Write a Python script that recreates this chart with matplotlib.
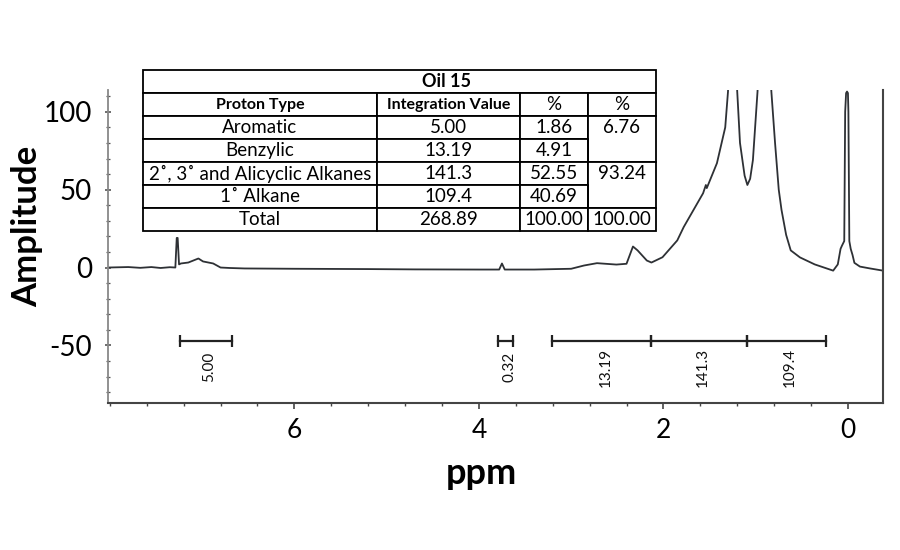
import matplotlib
matplotlib.use("Agg")
import matplotlib.pyplot as plt
from matplotlib.ticker import MultipleLocator

# ---------------- data ----------------
ppm = [8.02, 7.80, 7.67, 7.55, 7.45, 7.35, 7.29, 7.275, 7.265, 7.25, 7.23, 7.15, 7.04, 6.99, 6.88,
       6.80, 6.70, 6.54, 6.00, 5.20, 4.70, 4.00, 3.78, 3.75, 3.72, 3.40, 3.00, 2.86, 2.72, 2.51,
       2.40, 2.33, 2.28, 2.18, 2.13, 2.01, 1.85, 1.78, 1.57, 1.54, 1.53, 1.42, 1.33, 1.30, 1.26,
       1.20, 1.17, 1.12, 1.09, 1.06, 1.03, 0.98, 0.92, 0.83, 0.79, 0.75, 0.72, 0.67, 0.62, 0.52,
       0.36, 0.16, 0.11, 0.08, 0.065, 0.04, 0.03, 0.02, 0.01, 0.0, -0.005, -0.015, -0.03, -0.05,
       -0.07, -0.13, -0.24, -0.38]
amp = [0.0, 0.3, -0.2, 0.3, -0.3, 0.2, 0.0, 19.0, 19.0, 2.0, 2.6, 3.2, 5.8, 3.9, 2.6,
       0.0, -0.3, -0.6, -0.8, -1.0, -1.2, -1.3, -1.3, 2.6, -1.3, -1.3, -0.8, 1.3, 2.8, 1.9,
       2.4, 13.5, 11.0, 4.5, 3.2, 6.6, 17.4, 26.0, 47.7, 53.0, 51.0, 67.0, 90.0, 113.0, 200.0,
       113.0, 80.0, 59.0, 53.0, 57.0, 69.0, 113.0, 220.0, 113.0, 80.0, 50.0, 37.0, 21.0, 11.0, 6.5,
       2.0, -2.0, 2.0, 12.0, 14.0, 17.0, 100.0, 112.0, 113.0, 112.0, 100.0, 17.0, 12.0, 8.0,
       3.0, 0.6, -0.6, -2.0]

int_start = [7.24, 3.79, 3.21, 2.13, 1.09]
int_end = [6.68, 3.63, 2.13, 1.09, 0.24]
int_labels = ["5.00", "0.32", "13.19", "141.3", "109.4"]

table_title = "Oil 15"
col_headers = ["Proton Type", "Integration Value", "%", "%"]
proton_types = ["Aromatic", "Benzylic", "2˚, 3˚ and Alicyclic Alkanes", "1˚ Alkane", "Total"]
integration_vals = ["5.00", "13.19", "141.3", "109.4", "268.89"]
pct_vals = ["1.86", "4.91", "52.55", "40.69", "100.00"]
group_pct = ["6.76", "", "93.24", "", "100.00"]

x_ticks = [6, 4, 2, 0]
y_ticks = [-50, 0, 50, 100]

# ---------------- figure ----------------
FONT = ["Lato", "DejaVu Sans"]
plt.rcParams["font.family"] = FONT
W, H = 900, 550
fig = plt.figure(figsize=(9, 5.5), dpi=100)
ax = fig.add_axes([108 / W, 1 - 403 / H, (883 - 108) / W, (403 - 90) / H])

line_col = "#2e3135"
ax.plot(ppm, amp, color=line_col, lw=1.3, solid_joinstyle="round")

ax.set_xlim(8.02, -0.38)
ax.set_ylim(-87, 114)

# integration bars
bar_y = -47
for s, e, lab in zip(int_start, int_end, int_labels):
    ax.plot([s, e], [bar_y, bar_y], color="#222222", lw=1.6, marker="|", markersize=8,
            markeredgewidth=1.6)
    ax.text((s + e) / 2 - 0.04, -64, lab, rotation=90, ha="center", va="center",
            fontsize=11, color="#111111")

# spines
for side in ["left", "bottom", "right"]:
    ax.spines[side].set_color("#444444")
    ax.spines[side].set_linewidth(1.5)
ax.spines["top"].set_visible(False)
ax.spines["left"].set_color("#888888")
ax.spines["left"].set_linewidth(1.3)

ax.set_xticks(x_ticks)
ax.set_xticklabels([str(t) for t in x_ticks])
ax.set_yticks(y_ticks)
ax.set_yticklabels([str(t) for t in y_ticks])
ax.xaxis.set_minor_locator(MultipleLocator(0.4))
ax.yaxis.set_minor_locator(MultipleLocator(10))
ax.tick_params(axis="x", which="major", direction="out", length=4, width=1.2, pad=7,
               labelsize=19, colors="#444444", labelcolor="black")
ax.tick_params(axis="x", which="minor", direction="out", length=2.5, width=1, colors="#444444")
ax.tick_params(axis="y", which="major", direction="inout", length=5, width=1.2, pad=9,
               labelsize=20, colors="#555555", labelcolor="black")
ax.tick_params(axis="y", which="minor", direction="inout", length=3, width=0.9, colors="#555555")

fig.text(27 / W, 1 - 226 / H, "Amplitude", rotation=90, ha="center", va="center",
         fontsize=25, fontweight="bold")
fig.text(481 / W, 1 - 474 / H, "ppm", ha="center", va="center", fontsize=26,
         fontweight="bold")

# ---------------- table ----------------
tx0, tx1, ty0, ty1 = 143, 656, 70, 231
tax = fig.add_axes([tx0 / W, 1 - ty1 / H, (tx1 - tx0) / W, (ty1 - ty0) / H])
tax.axis("off")
title_frac = 23.3 / (ty1 - ty0)
colw = [234, 143, 68, 68]
colw = [c / sum(colw) for c in colw]

ttab = tax.table(cellText=[[""]], cellLoc="center", colWidths=[1.0],
                 bbox=[0, 1 - title_frac, 1, title_frac])
ttab[0, 0].set_linewidth(1.3)
tax.text((447 - tx0) / (tx1 - tx0), 1 - title_frac / 2, table_title, ha="center", va="center",
         fontsize=13, fontweight="bold", transform=tax.transAxes)

rows = [[p, iv, pc, g] for p, iv, pc, g in zip(proton_types, integration_vals, pct_vals, group_pct)]
mtab = tax.table(cellText=rows, colLabels=col_headers, cellLoc="center", colWidths=colw,
                 bbox=[0, 0, 1, 1 - title_frac])
mtab.auto_set_font_size(False)
for (r, cidx), cell in mtab.get_celld().items():
    cell.set_linewidth(1.3)
    cell.PAD = 0.01
    t = cell.get_text()
    if r == 0 and cidx < 2:
        t.set_fontweight("bold")
        t.set_fontsize(11.5)
    else:
        t.set_fontsize(13.5)
    if cidx == 3:
        if r in (1, 3):
            cell.visible_edges = "TLR"
        elif r in (2, 4):
            cell.visible_edges = "BLR"

fig.savefig("out.png", dpi=100)
